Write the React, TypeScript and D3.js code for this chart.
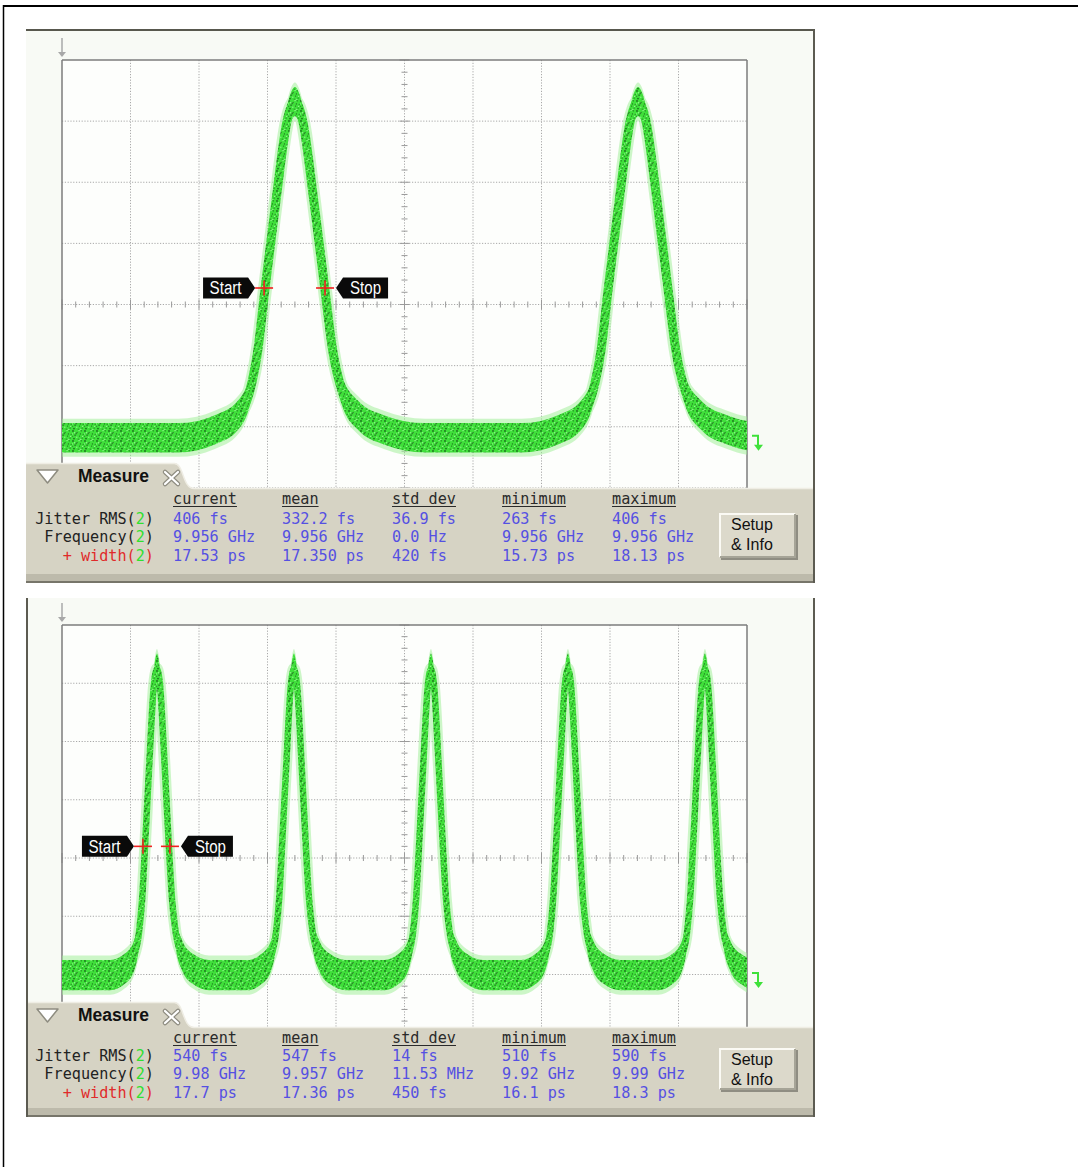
import React from 'react';
import * as d3 from 'd3';

// ---------------- data ----------------
// time axis in ps (10 divisions), level axis in screen divisions (8 divisions)
const timeDomain1: [number, number] = [0, 200];
const timeDomain2: [number, number] = [0, 500];
const levelDomain: [number, number] = [0, 8];

// one pulse, offsets from its peak (ps) and levels (div)
const pulseOffsetsPs = [-34, -23.4, -16.6, -13.1, -10.8, -8.7, -5.5, -2.3, -1.0, 0, 1.0, 2.3, 5.5, 8.7, 11, 13.7, 18.4, 26, 38];
const pulseLevels1 = [1.82, 1.95, 2.19, 2.6, 3.26, 4.27, 5.71, 7.0, 7.25, 7.32, 7.25, 7.0, 5.71, 4.27, 3.26, 2.6, 2.19, 1.95, 1.82];
const pulseLevels2 = [1.99, 2.1, 2.33, 2.72, 3.3, 4.2, 5.65, 6.95, 7.18, 7.25, 7.18, 6.95, 5.65, 4.2, 3.3, 2.72, 2.33, 2.1, 1.99];

const peakTimes1 = [68.0, 168.2];
const peakTimes2 = [69.3, 169.3, 269.3, 369.3, 469.3];

const startStop1 = [59.0, 76.8];
const markerLevel1 = 4.27;
const startStop2 = [59.1, 78.8];
const markerLevel2 = 4.2;

const rowLabels = ['Jitter RMS', 'Frequency', '+ width'];
const colHeaders = ['current', 'mean', 'std dev', 'minimum', 'maximum'];
const values1 = [
  ['406 fs', '332.2 fs', '36.9 fs', '263 fs', '406 fs'],
  ['9.956 GHz', '9.956 GHz', '0.0 Hz', '9.956 GHz', '9.956 GHz'],
  ['17.53 ps', '17.350 ps', '420 fs', '15.73 ps', '18.13 ps'],
];
const values2 = [
  ['540 fs', '547 fs', '14 fs', '510 fs', '590 fs'],
  ['9.98 GHz', '9.957 GHz', '11.53 MHz', '9.92 GHz', '9.99 GHz'],
  ['17.7 ps', '17.36 ps', '450 fs', '16.1 ps', '18.3 ps'],
];

// ---------------- layout ----------------
const W = 1078;
const H = 1167;
const PX0 = 62;
const PX1 = 747;
const COLS_X = [173, 282, 392, 502, 612];
const LABEL_END = 154;
const MONO = "'DejaVu Sans Mono', 'Liberation Mono', monospace";
const SANS = "'Liberation Sans', Arial, sans-serif";
const CW = 9.14; // mono char width after scaling

// speckle texture of the trace (style only)
const speckDark = [
  [1, 1], [5.2, 2.4], [9.3, 0.8], [3.1, 5.2], [7.6, 6.1], [11.2, 4.4], [2.0, 8.6], [6.3, 9.2], [10.1, 8.1], [4.3, 3.4], [8.4, 3.9], [0.6, 6.3],
];
const speckLight = [[2.6, 2.7], [7.1, 0.6], [10.6, 6.4], [4.8, 7.3], [0.3, 3.9], [8.8, 9.5]];

const panels = [
  {
    id: 'p1', top: 30, bottom: 583, plotTop: 60, plotBottom: 549,
    tabTop: 463, bodyTop: 488, headerY: 504, rowY: [523.5, 542, 560.5],
    btnTop: 513, btnBottom: 558,
    domain: timeDomain1, levels: pulseLevels1, peaks: peakTimes1,
    startStop: startStop1, markerLevel: markerLevel1, values: values1,
    jy: 0.24, lw: 9, topBorder: true, leftBorder: false,
  },
  {
    id: 'p2', top: 598, bottom: 1117, plotTop: 625, plotBottom: 1091,
    tabTop: 1002, bodyTop: 1027, headerY: 1043, rowY: [1060.5, 1079, 1097.5],
    btnTop: 1048, btnBottom: 1090,
    domain: timeDomain2, levels: pulseLevels2, peaks: peakTimes2,
    startStop: startStop2, markerLevel: markerLevel2, values: values2,
    jy: 0.26, lw: 6.5, topBorder: false, leftBorder: true,
  },
];

type Pt = [number, number];

function buildTrace(peaks: number[], levels: number[], end: number): Pt[] {
  const pts: Pt[] = [[-10, levels[0]]];
  peaks.forEach((p) => pulseOffsetsPs.forEach((o, i) => pts.push([p + o, levels[i]])));
  pts.push([end + 12, levels[levels.length - 1]]);
  return pts;
}

function Mono({ x, y, anchor = 'start', fill = '#222', children }: any) {
  return (
    <text
      transform={`translate(${x},${y}) scale(0.92,1)`}
      textAnchor={anchor}
      fontFamily={MONO}
      fontSize={16.5}
      fill={fill}
    >
      {children}
    </text>
  );
}

function Flag({ tipX, y, dir, label }: { tipX: number; y: number; dir: 1 | -1; label: string }) {
  const bw = 45;
  const tip = 7;
  const h = 21;
  const base = tipX - dir * tip;
  const far = base - dir * bw;
  const pts = [
    [tipX, y],
    [base, y - h / 2],
    [far, y - h / 2],
    [far, y + h / 2],
    [base, y + h / 2],
  ];
  const cx = (base + far) / 2;
  return (
    <g>
      <polygon points={pts.map((p) => p.join(',')).join(' ')} fill="#0a0a0a" />
      <text
        x={cx}
        y={y + 6.5}
        textAnchor="middle"
        fontFamily={SANS}
        fontSize={18}
        fill="#ffffff"
        textLength={label.length === 5 ? 32 : 31}
        lengthAdjust="spacingAndGlyphs"
      >
        {label}
      </text>
    </g>
  );
}

function Cross({ x, y }: { x: number; y: number }) {
  return (
    <g stroke="#f02020" strokeWidth={1.6}>
      <line x1={x - 9} x2={x + 9} y1={y} y2={y} />
      <line x1={x} x2={x} y1={y - 7.5} y2={y + 7.5} />
    </g>
  );
}

function Panel({ p }: { p: (typeof panels)[number] }) {
  const x = d3.scaleLinear().domain(p.domain).range([PX0, PX1]);
  const y = d3.scaleLinear().domain(levelDomain).range([p.plotBottom, p.plotTop]);
  const pts = buildTrace(p.peaks, p.levels, p.domain[1]);

  const line = d3
    .line<Pt>()
    .x((d) => x(d[0]))
    .y((d) => y(d[1]))
    .curve(d3.curveMonotoneX);
  const areaFor = (k: number) =>
    d3
      .area<Pt>()
      .x((d) => x(d[0]))
      .y0((d) => y(d[1] - p.jy * k))
      .y1((d) => y(d[1] + p.jy * k))
      .curve(d3.curveMonotoneX);

  const xt = x.ticks(10);
  const yt = y.ticks(8);
  const span = p.domain[1] - p.domain[0];
  const minorX = d3.range(0, 51).map((i) => p.domain[0] + (span * i) / 50);
  const minorY = d3.range(0, 41).map((i) => (8 * i) / 40);
  const cxAxis = x((p.domain[0] + p.domain[1]) / 2);
  const cyAxis = y(4);

  const clipId = `clip-${p.id}`;
  const left = 26;
  const right = 815;
  const tabRight = 174;

  const bodyPath = `M${left},${p.tabTop} H${tabRight} C${tabRight + 10},${p.tabTop} ${tabRight + 8},${p.bodyTop} ${tabRight + 20},${p.bodyTop} H${right} V${p.bottom} H${left} Z`;

  const bx0 = 719;
  const bx1 = 796;

  const gy = y(p.levels[0]) - 2;

  return (
    <g>
      <defs>
        <clipPath id={clipId}>
          <rect x={PX0} y={p.plotTop} width={PX1 - PX0} height={p.plotBottom - p.plotTop} />
        </clipPath>
      </defs>
      <rect x={left} y={p.top} width={right - left} height={p.bottom - p.top} fill="#f8faf5" />
      <rect x={PX0} y={p.plotTop} width={PX1 - PX0} height={p.plotBottom - p.plotTop} fill="#fdfefc" />

      {/* grid */}
      <g stroke="#a9a9a9" strokeWidth={1} strokeDasharray="1.2 1.6">
        {xt.slice(1, -1).map((t) => (
          <line key={'gx' + t} x1={x(t)} x2={x(t)} y1={p.plotTop} y2={p.plotBottom} />
        ))}
        {yt.slice(1, -1).map((t) => (
          <line key={'gy' + t} x1={PX0} x2={PX1} y1={y(t)} y2={y(t)} />
        ))}
      </g>
      <g stroke="#9a9a9a" strokeWidth={1}>
        {minorX.map((t, i) => (
          <line key={'mx' + i} x1={x(t)} x2={x(t)} y1={cyAxis - (i % 5 === 0 ? 5 : 3)} y2={cyAxis + (i % 5 === 0 ? 5 : 3)} />
        ))}
        {minorY.map((t, i) => (
          <line key={'my' + i} x1={cxAxis - (i % 5 === 0 ? 5 : 3)} x2={cxAxis + (i % 5 === 0 ? 5 : 3)} y1={y(t)} y2={y(t)} />
        ))}
      </g>
      <g stroke="#7c7c7c" strokeWidth={1.5} fill="none">
        <line x1={PX0} x2={PX0} y1={p.plotTop} y2={p.plotBottom} />
        <line x1={PX0} x2={PX1} y1={p.plotTop} y2={p.plotTop} />
        <line x1={PX1} x2={PX1} y1={p.plotTop} y2={p.plotBottom} />
      </g>

      {/* trace */}
      <g clipPath={`url(#${clipId})`}>
        <g opacity={0.5}>
          <path d={areaFor(1.3)(pts) || ''} fill="#9cef94" />
          <path d={line(pts) || ''} fill="none" stroke="#9cef94" strokeWidth={p.lw + 5} strokeLinejoin="round" />
        </g>
        <path d={areaFor(1)(pts) || ''} fill="url(#speck)" />
        <path d={line(pts) || ''} fill="none" stroke="url(#speck)" strokeWidth={p.lw} strokeLinejoin="round" />
      </g>

      {/* top-left channel arrow */}
      <g stroke="#a8a8a8" fill="#a8a8a8" strokeWidth={1.5}>
        <line x1={PX0} x2={PX0} y1={p.plotTop - 22} y2={p.plotTop - 6} />
        <polygon points={`${PX0 - 4},${p.plotTop - 8} ${PX0 + 4},${p.plotTop - 8} ${PX0},${p.plotTop - 3}`} stroke="none" />
      </g>
      {/* ground marker at right */}
      <g stroke="#3fe13a" strokeWidth={2} fill="none">
        <polyline points={`${PX1 + 5},${gy} ${PX1 + 11},${gy} ${PX1 + 11},${gy + 10}`} />
        <polygon points={`${PX1 + 7},${gy + 9} ${PX1 + 16},${gy + 9} ${PX1 + 11.5},${gy + 15}`} fill="#3fe13a" stroke="none" />
      </g>

      {/* start / stop markers */}
      <Flag tipX={x(p.startStop[0]) - 9} y={y(p.markerLevel)} dir={1} label="Start" />
      <Flag tipX={x(p.startStop[1]) + 11} y={y(p.markerLevel)} dir={-1} label="Stop" />
      <Cross x={x(p.startStop[0])} y={y(p.markerLevel)} />
      <Cross x={x(p.startStop[1])} y={y(p.markerLevel)} />

      {/* measure panel */}
      <path d={bodyPath} fill="#d6d3c4" />
      <path
        d={`M${left},${p.tabTop + 0.5} H${tabRight} C${tabRight + 10},${p.tabTop} ${tabRight + 8},${p.bodyTop} ${tabRight + 20},${p.bodyTop + 0.5} H${right}`}
        fill="none"
        stroke="#efede4"
        strokeWidth={1.5}
      />
      <rect x={left} y={p.bottom - 9} width={right - left} height={9} fill="#bdbaab" />
      <line x1={left} x2={right} y1={p.bottom - 1} y2={p.bottom - 1} stroke="#77756a" strokeWidth={2} />

      <polygon
        points={`${37},${p.tabTop + 7} ${58},${p.tabTop + 7} ${47.5},${p.tabTop + 20}`}
        fill="#ffffff"
        stroke="#8e8c80"
        strokeWidth={1.5}
        strokeLinejoin="round"
      />
      <text x={78} y={p.tabTop + 19} fontFamily={SANS} fontWeight="bold" fontSize={17.5} fill="#111">
        Measure
      </text>
      <g strokeLinecap="round">
        <g stroke="#8e8c80" strokeWidth={4.5}>
          <line x1={165} y1={p.tabTop + 9} x2={178} y2={p.tabTop + 21} />
          <line x1={178} y1={p.tabTop + 9} x2={165} y2={p.tabTop + 21} />
        </g>
        <g stroke="#ffffff" strokeWidth={2.2}>
          <line x1={165} y1={p.tabTop + 9} x2={178} y2={p.tabTop + 21} />
          <line x1={178} y1={p.tabTop + 9} x2={165} y2={p.tabTop + 21} />
        </g>
      </g>

      {colHeaders.map((h, i) => (
        <g key={'h' + i}>
          <Mono x={COLS_X[i]} y={p.headerY} fill="#2a2a2a">
            {h}
          </Mono>
          <line
            x1={COLS_X[i]}
            x2={COLS_X[i] + h.length * CW}
            y1={p.headerY + 2.5}
            y2={p.headerY + 2.5}
            stroke="#2a2a2a"
            strokeWidth={1.2}
          />
        </g>
      ))}
      {rowLabels.map((r, i) => (
        <Mono key={'r' + i} x={LABEL_END} y={p.rowY[i]} anchor="end" fill={i === 2 ? '#e02a2a' : '#222'}>
          {r}(
          <tspan fill="#2fe02f">2</tspan>)
        </Mono>
      ))}
      {p.values.map((row, i) =>
        row.map((v, j) => (
          <Mono key={`v${i}-${j}`} x={COLS_X[j]} y={p.rowY[i]} fill="#5550e2">
            {v}
          </Mono>
        ))
      )}

      {/* Setup & Info button */}
      <rect x={bx0 + 2} y={p.btnTop + 2} width={bx1 - bx0} height={p.btnBottom - p.btnTop} fill="#8f8d82" />
      <rect x={bx0} y={p.btnTop} width={bx1 - bx0} height={p.btnBottom - p.btnTop} fill="#dcd9cb" />
      <polyline
        points={`${bx0 + 1},${p.btnBottom - 1} ${bx0 + 1},${p.btnTop + 1} ${bx1 - 1},${p.btnTop + 1}`}
        fill="none"
        stroke="#fbfaf4"
        strokeWidth={2}
      />
      <polyline
        points={`${bx1 - 1},${p.btnTop + 1} ${bx1 - 1},${p.btnBottom - 1} ${bx0 + 1},${p.btnBottom - 1}`}
        fill="none"
        stroke="#a6a497"
        strokeWidth={2}
      />
      <text x={731} y={p.btnTop + 17} fontFamily={SANS} fontSize={16} fill="#111">
        Setup
      </text>
      <text x={731} y={p.btnTop + 37} fontFamily={SANS} fontSize={16} fill="#111">
        &amp; Info
      </text>

      {p.topBorder && <line x1={left} x2={right} y1={p.top} y2={p.top} stroke="#58584e" strokeWidth={2} />}
      {p.leftBorder && <line x1={left + 1} x2={left + 1} y1={p.top} y2={p.bottom} stroke="#5c5b51" strokeWidth={2} />}
      <line x1={right - 1} x2={right - 1} y1={p.top} y2={p.bottom} stroke="#5c5b51" strokeWidth={2} />
    </g>
  );
}

export default function App() {
  return (
    <svg
      width={W}
      height={H}
      viewBox={`0 0 ${W} ${H}`}
      style={{ position: 'absolute', left: 0, top: 0, background: '#ffffff' }}
    >
      <defs>
        <pattern id="speck" width={12} height={10} patternUnits="userSpaceOnUse">
          <rect width={12} height={10} fill="#3fe03a" />
          {speckDark.map(([cx, cy], i) => (
            <circle key={'d' + i} cx={cx} cy={cy} r={i % 3 === 0 ? 0.9 : 0.65} fill={i % 2 === 0 ? '#1b6e1b' : '#2a8c28'} />
          ))}
          {speckLight.map(([cx, cy], i) => (
            <circle key={'l' + i} cx={cx} cy={cy} r={0.7} fill="#8ff58a" />
          ))}
        </pattern>
      </defs>
      <rect width={W} height={H} fill="#ffffff" />
      <line x1={3} x2={W} y1={6} y2={6} stroke="#000" strokeWidth={2} />
      <line x1={3.5} x2={3.5} y1={5} y2={H} stroke="#000" strokeWidth={1.5} />
      {panels.map((p) => (
        <Panel key={p.id} p={p} />
      ))}
    </svg>
  );
}
